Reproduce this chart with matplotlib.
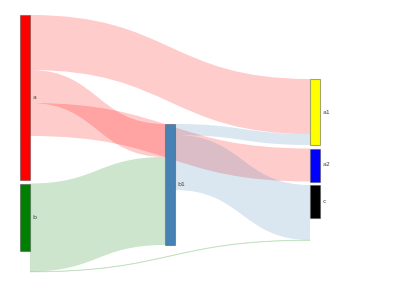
import matplotlib
matplotlib.use("Agg")
import matplotlib.pyplot as plt
import matplotlib.patches as patches
from matplotlib.path import Path
from matplotlib.colors import to_rgba

# nodes of the flow diagram
nodes = ["a", "b", "b1", "a1", "a2", "c"]
node_values = [150, 61, 110, 60, 30, 30]
node_colors = ["red", "green", "steelblue", "yellow", "blue", "black"]
node_column = [0, 0, 1, 2, 2, 2]

# links between nodes
link_source = ["a", "a", "a", "b", "b", "b1", "b1"]
link_target = ["a1", "b1", "a2", "b1", "c", "a1", "c"]
link_values = [50, 30, 30, 80, 0.5, 10, 50]

# layout (pixels)
col_x = [20, 165, 310]
col_top = [15, 124, 79]
node_w = 10
gap = 3.5
scale = 1.1

fig = plt.figure(figsize=(4, 3), dpi=100)
ax = fig.add_axes([0, 0, 1, 1])
ax.set_xlim(0, 400)
ax.set_ylim(300, 0)
ax.axis("off")

# node positions
node_x = {}
node_y = {}
cursor = dict(enumerate(col_top))
for name, val, col in zip(nodes, node_values, node_column):
    node_x[name] = col_x[col]
    node_y[name] = cursor[col]
    cursor[col] += val * scale + gap

# stacking offsets of links on each node
links = list(zip(link_source, link_target, link_values))
out_off = {}
in_off = {}
for name in nodes:
    outs = sorted([l for l in links if l[0] == name], key=lambda l: node_y[l[1]])
    y = node_y[name]
    for l in outs:
        out_off[l] = y
        y += l[2] * scale
    ins = sorted([l for l in links if l[1] == name], key=lambda l: node_y[l[0]])
    y = node_y[name]
    for l in ins:
        in_off[l] = y
        y += l[2] * scale

color_of = dict(zip(nodes, node_colors))

def band(x0, y0, x1, y1, w):
    xm = (x0 + x1) / 2
    verts = [(x0, y0), (xm, y0), (xm, y1), (x1, y1),
             (x1, y1 + w), (xm, y1 + w), (xm, y0 + w), (x0, y0 + w), (x0, y0)]
    codes = [Path.MOVETO, Path.CURVE4, Path.CURVE4, Path.CURVE4,
             Path.LINETO, Path.CURVE4, Path.CURVE4, Path.CURVE4, Path.CLOSEPOLY]
    return Path(verts, codes)

for l in links:
    s, t, v = l
    x0 = node_x[s] + node_w
    x1 = node_x[t]
    w = v * scale
    c = to_rgba(color_of[s], 0.2)
    if v < 1:
        # hairline link
        p = patches.PathPatch(band(x0, out_off[l], x1, in_off[l], w),
                              facecolor=c, edgecolor=to_rgba(color_of[s], 0.12), lw=0.5)
    else:
        p = patches.PathPatch(band(x0, out_off[l], x1, in_off[l], w),
                              facecolor=c, edgecolor="none")
    ax.add_patch(p)

for name, val in zip(nodes, node_values):
    h = val * scale
    rect = patches.Rectangle((node_x[name], node_y[name]), node_w, h,
                             facecolor=color_of[name], edgecolor=(0.3, 0.3, 0.3, 0.5), lw=0.8)
    ax.add_patch(rect)
    ax.text(node_x[name] + node_w + 2.5, node_y[name] + h / 2, name,
            fontsize=4.5, color="#444444", ha="left", va="center")

fig.savefig("out.png", dpi=100)
